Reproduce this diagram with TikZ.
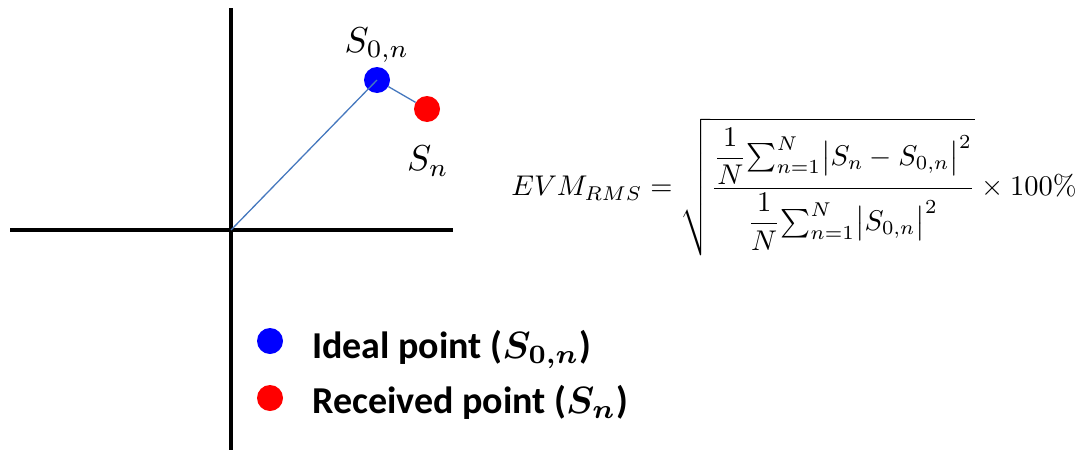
\documentclass[tikz,border=0pt]{standalone}
\usepackage{amsmath}
\usepackage{bm}
\usepackage{graphicx}
\usepackage{fontspec}
\newfontfamily\legfont{Carlito}
\begin{document}
\begin{tikzpicture}[x=1pt,y=-1pt,
  axis/.style={line width=4.5pt,black},
  vec/.style={line width=1.3pt,color={rgb,255:red,70;green,120;blue,190}},
  dot/.style={circle,inner sep=0pt,minimum size=26pt},
  lbl/.style={inner sep=0pt},
  leg/.style={anchor=base west,inner sep=0pt,font=\legfont\bfseries}]
\useasboundingbox (0,0) rectangle (1081,450);
\coordinate (vtop) at (231,8);
\coordinate (vbot) at (231,450);
\coordinate (hl) at (10,230);
\coordinate (hr) at (453,230);
\coordinate (o) at (231,230);
\draw[axis] (vtop) -- (vbot);
\draw[axis] (hl) -- (hr);
\node[dot,fill=blue] (ideal) at (377,80) {};
\node[dot,fill=red] (rx) at (427,109) {};
\draw[vec] (o) -- (ideal.center);
\draw[vec] (ideal) -- (rx);
\node[lbl] (l0) at (377,45) {\scalebox{3.6}{$S_{0,n}$}};
\node[lbl] (l1) at (428,161) {\scalebox{3.6}{$S_n$}};
\node[inner sep=0pt] (f) at (794,187)
 {\scalebox{2.85}{$EVM_{RMS} = \sqrt{\dfrac{\dfrac{1}{N}{\textstyle\sum_{n=1}^{N}}\bigl\lvert S_n - S_{0,n}\bigr\rvert^2}{\dfrac{1}{N}{\textstyle\sum_{n=1}^{N}}\bigl\lvert S_{0,n}\bigr\rvert^2}}\times 100\%$}};
\node[dot,fill=blue] (lb) at (270,341) {};
\node[dot,fill=red] (lr) at (270,398) {};
\node[leg] (t1) at (312,358) {\scalebox{3.8}{Ideal point ($\bm{S_{0,n}}$)}};
\node[leg] (t2) at (312,413) {\scalebox{3.8}{Received point ($\bm{S_n}$)}};
\end{tikzpicture}
\end{document}
